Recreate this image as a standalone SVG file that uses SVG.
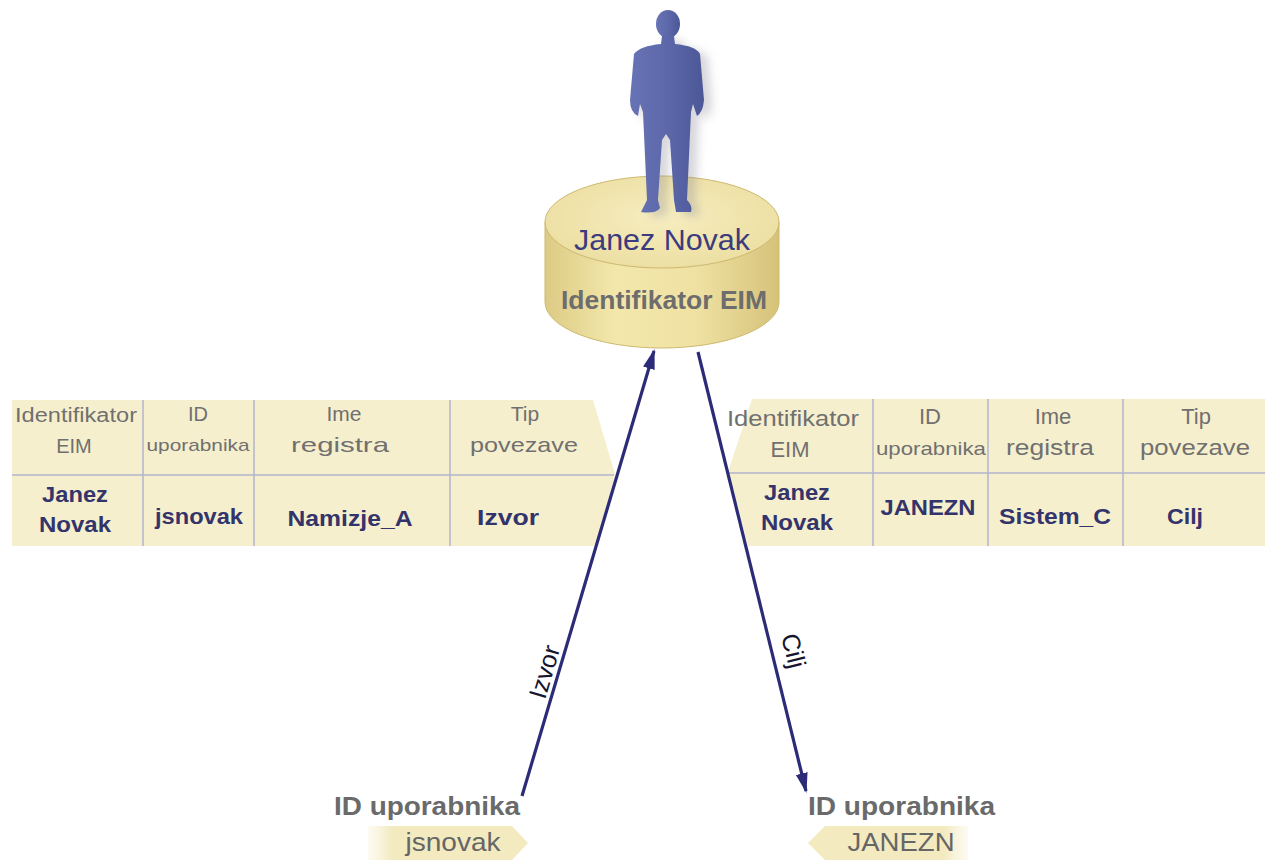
<svg xmlns="http://www.w3.org/2000/svg" width="1265" height="862" viewBox="0 0 1265 862">
<style>
  text { font-family: "Liberation Sans", Arial, sans-serif; }
  .hdr { fill: #707070; font-size: 20px; text-anchor: middle; }
  .dat { fill: #34346c; font-size: 22px; font-weight: bold; text-anchor: middle; }
  .grid { stroke: #b3b3cb; stroke-width: 1.5; fill: none; }
  .tbl { fill: #f6efcd; }
  .lbl { fill: #6a6a6a; font-size: 25px; font-weight: bold; }
  .tagtxt { fill: #666; font-size: 25px; text-anchor: middle; }
  .conn { stroke: #2b2b78; stroke-width: 3.2; fill: none; }
  .arrlbl { fill: #151530; font-size: 25px; text-anchor: middle; }
</style>
<defs>
  <linearGradient id="side" x1="0" y1="0" x2="1" y2="0">
    <stop offset="0" stop-color="#dccb84"/>
    <stop offset="0.3" stop-color="#f3e7ab"/>
    <stop offset="0.65" stop-color="#efe1a2"/>
    <stop offset="1" stop-color="#d6c27a"/>
  </linearGradient>
  <radialGradient id="top" cx="0.5" cy="0.45" r="0.6">
    <stop offset="0" stop-color="#f6edc0"/>
    <stop offset="1" stop-color="#ecdea0"/>
  </radialGradient>
  <linearGradient id="person" x1="0" y1="0" x2="1" y2="0">
    <stop offset="0" stop-color="#6773b4"/>
    <stop offset="0.5" stop-color="#5c68aa"/>
    <stop offset="1" stop-color="#4b5796"/>
  </linearGradient>
  <linearGradient id="tagL" x1="0" y1="0" x2="1" y2="0">
    <stop offset="0" stop-color="#f7f1d2" stop-opacity="0.3"/>
    <stop offset="0.15" stop-color="#f3eac0"/>
    <stop offset="1" stop-color="#f3eac0"/>
  </linearGradient>
  <linearGradient id="tagR" x1="1" y1="0" x2="0" y2="0">
    <stop offset="0" stop-color="#f7f1d2" stop-opacity="0.3"/>
    <stop offset="0.15" stop-color="#f3eac0"/>
    <stop offset="1" stop-color="#f3eac0"/>
  </linearGradient>
  <filter id="blur" x="-30%" y="-30%" width="160%" height="160%">
    <feGaussianBlur stdDeviation="5"/>
  </filter>
  <marker id="arrow" markerUnits="userSpaceOnUse" viewBox="0 0 20 14" markerWidth="20" markerHeight="14" refX="18" refY="7" orient="auto">
    <path d="M0,1 L20,7 L0,13 Z" fill="#2b2b78"/>
  </marker>
</defs>
<rect width="1265" height="862" fill="#ffffff"/>

<g id="eim-identifier">
  <path d="M545 222 L545 302 A117 46 0 0 0 779 302 L779 222 Z" fill="url(#side)" stroke="#cdb96e" stroke-width="1"/>
  <ellipse cx="662" cy="222" rx="117" ry="46" fill="url(#top)" stroke="#cdb96e" stroke-width="1"/>
  <text x="662" y="250" fill="#3b3b7d" font-size="29" text-anchor="middle" textLength="176" lengthAdjust="spacingAndGlyphs">Janez Novak</text>
  <text x="664" y="309" fill="#6d6d6d" font-size="25" font-weight="bold" text-anchor="middle" textLength="206" lengthAdjust="spacingAndGlyphs">Identifikator EIM</text>
</g>

<g id="person-figure">
  <path d="M662 36 L674 36 L675 44 Q696 46 700 54 L704 100 Q703 112 697 116 L693 104 L691 112 L687 200 Q693 206 691 212 L676 212 L674 200 L670 140 L666 134 L662 140 L658 200 L660 208 Q656 214 641 212 L647 200 L643 112 L640 104 L638 116 Q630 112 630 100 L634 54 Q640 46 661 44 Z" transform="translate(8,4)" fill="#8a8a9a" opacity="0.35" filter="url(#blur)"/>
  <ellipse cx="668" cy="24" rx="12" ry="14" fill="url(#person)"/>
  <path d="M662 36 L674 36 L675 44 Q696 46 700 54 L704 100 Q703 112 697 116 L693 104 L691 112 L687 200 Q693 206 691 212 L676 212 L674 200 L670 140 L666 134 L662 140 L658 200 L660 208 Q656 214 641 212 L647 200 L643 112 L640 104 L638 116 Q630 112 630 100 L634 54 Q640 46 661 44 Z" fill="url(#person)"/>
</g>

<g id="table-source">
  <polygon class="tbl" points="12,400 593,400 615,474 597,546 12,546"/>
  <line class="grid" x1="12" y1="475" x2="614" y2="475"/>
  <line class="grid" x1="143" y1="400" x2="143" y2="546"/>
  <line class="grid" x1="254" y1="400" x2="254" y2="546"/>
  <line class="grid" x1="450" y1="400" x2="450" y2="546"/>
  <text class="hdr" x="76" y="422" textLength="122" lengthAdjust="spacingAndGlyphs">Identifikator</text>
  <text class="hdr" x="74" y="453">EIM</text>
  <text class="hdr" x="198" y="421">ID</text>
  <text class="hdr" x="198" y="451" style="font-size:17px" textLength="103" lengthAdjust="spacingAndGlyphs">uporabnika</text>
  <text class="hdr" x="344" y="421" style="font-size:21px">Ime</text>
  <text class="hdr" x="340" y="452" style="font-size:21px" textLength="98" lengthAdjust="spacingAndGlyphs">registra</text>
  <text class="hdr" x="525" y="421" style="font-size:21px">Tip</text>
  <text class="hdr" x="524" y="452" style="font-size:21px" textLength="108" lengthAdjust="spacingAndGlyphs">povezave</text>
  <text class="dat" x="75" y="502" textLength="66" lengthAdjust="spacingAndGlyphs">Janez</text>
  <text class="dat" x="75" y="532" textLength="72" lengthAdjust="spacingAndGlyphs">Novak</text>
  <text class="dat" x="199" y="524" textLength="88" lengthAdjust="spacingAndGlyphs">jsnovak</text>
  <text class="dat" x="350" y="526" textLength="125" lengthAdjust="spacingAndGlyphs">Namizje_A</text>
  <text class="dat" x="508" y="525" textLength="62" lengthAdjust="spacingAndGlyphs">Izvor</text>
</g>

<g id="table-target">
  <polygon class="tbl" points="752,399 1265,399 1265,546 748,546 728,472"/>
  <line class="grid" x1="729" y1="473" x2="1265" y2="473"/>
  <line class="grid" x1="873" y1="399" x2="873" y2="546"/>
  <line class="grid" x1="988" y1="399" x2="988" y2="546"/>
  <line class="grid" x1="1123" y1="399" x2="1123" y2="546"/>
  <text class="hdr" x="793" y="426" style="font-size:22px" textLength="132" lengthAdjust="spacingAndGlyphs">Identifikator</text>
  <text class="hdr" x="790" y="457" style="font-size:22px">EIM</text>
  <text class="hdr" x="930" y="424" style="font-size:22px">ID</text>
  <text class="hdr" x="931" y="455" style="font-size:19px" textLength="110" lengthAdjust="spacingAndGlyphs">uporabnika</text>
  <text class="hdr" x="1053" y="424" style="font-size:22px">Ime</text>
  <text class="hdr" x="1050" y="455" style="font-size:22px" textLength="88" lengthAdjust="spacingAndGlyphs">registra</text>
  <text class="hdr" x="1196" y="424" style="font-size:22px">Tip</text>
  <text class="hdr" x="1195" y="455" style="font-size:22px" textLength="110" lengthAdjust="spacingAndGlyphs">povezave</text>
  <text class="dat" x="797" y="500" textLength="66" lengthAdjust="spacingAndGlyphs">Janez</text>
  <text class="dat" x="797" y="530" textLength="72" lengthAdjust="spacingAndGlyphs">Novak</text>
  <text class="dat" x="928" y="515" textLength="95" lengthAdjust="spacingAndGlyphs">JANEZN</text>
  <text class="dat" x="1055" y="524" textLength="112" lengthAdjust="spacingAndGlyphs">Sistem_C</text>
  <text class="dat" x="1185" y="524" textLength="36" lengthAdjust="spacingAndGlyphs">Cilj</text>
</g>

<g id="user-source">
  <text class="lbl" x="334" y="815" textLength="186" lengthAdjust="spacingAndGlyphs">ID uporabnika</text>
  <path d="M368 826 L512 826 L528 843 L512 860 L368 860 Z" fill="url(#tagL)"/>
  <text class="tagtxt" x="453" y="851" textLength="95" lengthAdjust="spacingAndGlyphs">jsnovak</text>
</g>

<g id="user-target">
  <text class="lbl" x="808" y="815" textLength="187" lengthAdjust="spacingAndGlyphs">ID uporabnika</text>
  <path d="M825 826 L968 826 L968 860 L825 860 L808 843 Z" fill="url(#tagR)"/>
  <text class="tagtxt" x="901" y="851" textLength="107" lengthAdjust="spacingAndGlyphs">JANEZN</text>
</g>

<g id="connectors">
  <line class="conn" x1="522" y1="796" x2="654" y2="351" marker-end="url(#arrow)"/>
  <line class="conn" x1="698" y1="352" x2="806" y2="791" marker-end="url(#arrow)"/>
  <text class="arrlbl" transform="translate(545,672) rotate(-73.4)" dy="8">Izvor</text>
  <text class="arrlbl" transform="translate(793,651) rotate(76.3)" dy="8">Cilj</text>
</g>
</svg>
